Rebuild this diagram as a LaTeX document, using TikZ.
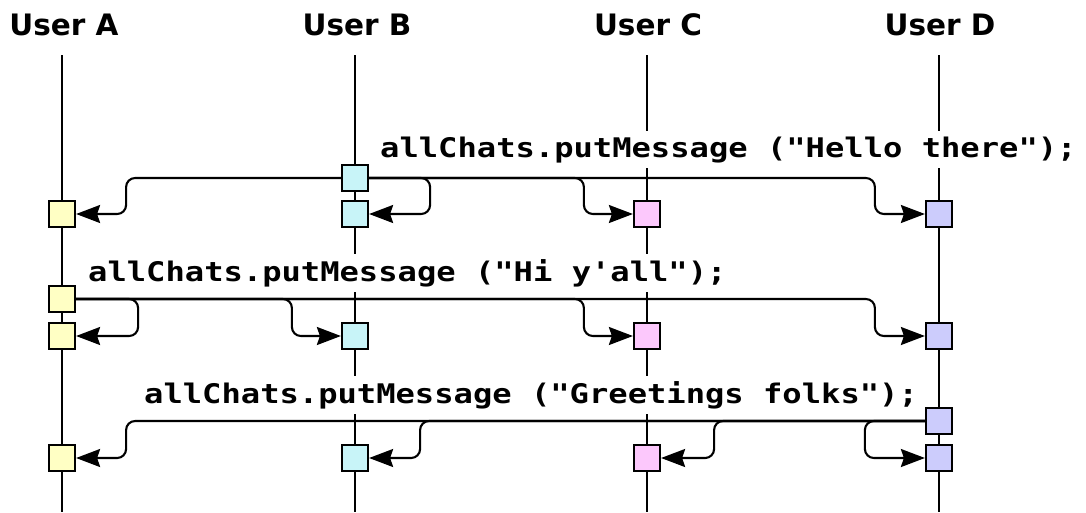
\documentclass[tikz,border=0pt]{standalone}
\usepackage{fontspec}
\setmainfont{DejaVu Sans}
\newfontfamily\codefont[FakeStretch=1.19,Ligatures=TeXOff]{DejaVu Sans Mono}
\usetikzlibrary{arrows.meta}
\definecolor{colA}{HTML}{FFFFC4}
\definecolor{colB}{HTML}{C8F4F8}
\definecolor{colC}{HTML}{FCC8FC}
\definecolor{colD}{HTML}{CCCCFC}
\tikzset{act/.style={draw, line width=2.2pt, minimum size=26pt, inner sep=0pt, fill=#1},
  life/.style={line width=2.1pt},
  msg/.style={line width=2.1pt, rounded corners=9pt, -{Stealth[length=24pt,width=18pt,inset=3pt]}},
  who/.style={font=\fontsize{29.5}{32}\selectfont\bfseries, anchor=base},
  call/.style={font=\codefont\fontsize{27}{30}\selectfont\bfseries, fill=white, inner sep=5pt, anchor=base west}}

\begin{document}
\begin{tikzpicture}[x=1pt,y=-1pt]
      \fill [white] (0,0) rectangle (1086,512);
      \useasboundingbox (0,0) rectangle (1086,512);

      \node [who] (ua) at (64,35) {User A};
      \node [who] (ub) at (357,35) {User B};
      \node [who] (uc) at (648,35) {User C};
      \node [who] (ud) at (940,35) {User D};
      \foreach \u/\x in {ua/62,ub/355,uc/647,ud/939}
        \draw [life] (\x,55) -- (\x,512);

      \node [call] (t1) at (375,157) {allChats.putMessage ("Hello there");};
      \node [call] (t2) at (83,281) {allChats.putMessage ("Hi y'all");};
      \node [call] (t3) at (139,403) {allChats.putMessage ("Greetings folks");};

      \node [act=colB] (b1) at (355,178) {};
      \node [act=colA] (a1) at (62,214) {};
      \node [act=colB] (b1r) at (355,214) {};
      \node [act=colC] (c1) at (647,214) {};
      \node [act=colD] (d1) at (939,214) {};

      \node [act=colA] (a2) at (62,299) {};
      \node [act=colA] (a2r) at (62,336) {};
      \node [act=colB] (b2) at (355,336) {};
      \node [act=colC] (c2) at (647,336) {};
      \node [act=colD] (d2) at (939,336) {};

      \node [act=colD] (d3) at (939,421) {};
      \node [act=colA] (a3) at (62,458) {};
      \node [act=colB] (b3) at (355,458) {};
      \node [act=colC] (c3) at (647,458) {};
      \node [act=colD] (d3r) at (939,458) {};

      \draw [msg] (b1.west) -| ([xshift=50pt]a1.east) -- (a1.east);
      \draw [msg] (b1.east) -| ([xshift=61pt]b1r.east) -- (b1r.east);
      \draw [msg] (b1.east) -| ([xshift=-49pt]c1.west) -- (c1.west);
      \draw [msg] (b1.east) -| ([xshift=-50pt]d1.west) -- (d1.west);

      \draw [msg] (a2.east) -| ([xshift=62pt]a2r.east) -- (a2r.east);
      \draw [msg] (a2.east) -| ([xshift=-49pt]b2.west) -- (b2.west);
      \draw [msg] (a2.east) -| ([xshift=-49pt]c2.west) -- (c2.west);
      \draw [msg] (a2.east) -| ([xshift=-50pt]d2.west) -- (d2.west);

      \draw [msg] (d3.west) -| ([xshift=50pt]a3.east) -- (a3.east);
      \draw [msg] (d3.west) -| ([xshift=51pt]b3.east) -- (b3.east);
      \draw [msg] (d3.west) -| ([xshift=53pt]c3.east) -- (c3.east);
      \draw [msg] (d3.west) -| ([xshift=-60pt]d3r.west) -- (d3r.west);
    \end{tikzpicture}
\end{document}
